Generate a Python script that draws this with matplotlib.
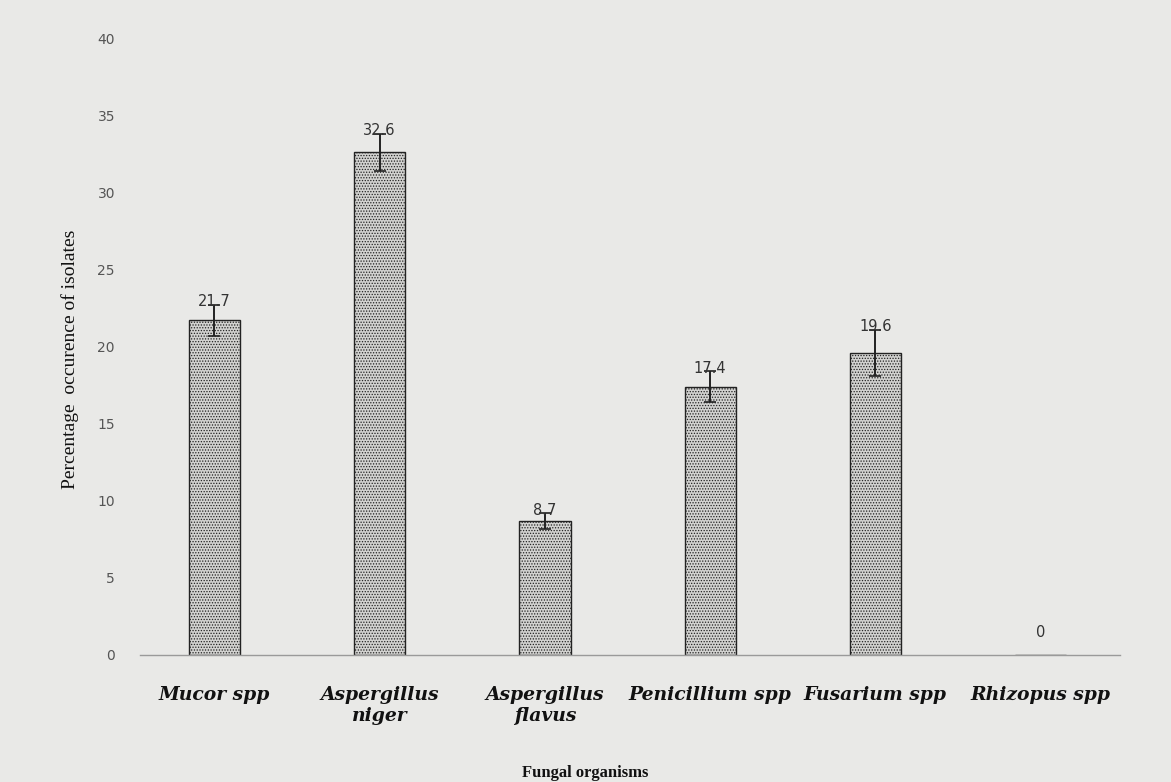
import matplotlib
matplotlib.use("Agg")
import matplotlib.pyplot as plt

categories = ["Mucor spp", "Aspergillus\nniger", "Aspergillus\nflavus",
              "Penicillium spp", "Fusarium spp", "Rhizopus spp"]
values = [21.7, 32.6, 8.7, 17.4, 19.6, 0.0]
errors = [1.0, 1.2, 0.5, 1.0, 1.5, 0.0]
value_labels = ["21.7", "32.6", "8.7", "17.4", "19.6", "0"]
yticks = [0, 5, 10, 15, 20, 25, 30, 35, 40]

plt.rcParams['hatch.color'] = '#555555'
plt.rcParams['hatch.linewidth'] = 0.6

fig = plt.figure(figsize=(11.71, 7.82), dpi=100, facecolor='#e9e9e7')
ax = fig.add_axes([140/1171, 1 - 655/782, 980/1171, (655-38)/782])
ax.set_facecolor('#e9e9e7')

x = list(range(len(categories)))
bars = ax.bar(x, values, width=0.31, color='#d2d2d0', edgecolor='#222222',
              linewidth=1.0, hatch='......')
ax.errorbar(x[:5], values[:5], yerr=errors[:5], fmt='none', ecolor='#222222',
            elinewidth=1.4, capsize=4, capthick=1.2)

for xi, v, e, lab in zip(x, values, errors, value_labels):
    ypos = v + e - 0.3 if v > 0 else v + 1.0
    ax.text(xi, ypos, lab, ha='center', va='bottom',
            fontsize=10.5, color='#333333', family='DejaVu Sans')

ax.set_xlim(-0.45, 5.48)
ax.set_ylim(0, 40)
ax.set_yticks(yticks)
ax.set_yticklabels([str(t) for t in yticks], fontsize=10, color='#555555')
ax.tick_params(axis='y', length=0, pad=18)
ax.set_xticks(x)
ax.set_xticklabels(categories, fontsize=13.5, fontweight='bold', fontstyle='italic',
                   family='DejaVu Serif', color='#111111', linespacing=1.25,
                   va='top')
ax.tick_params(axis='x', length=0, pad=22)

for s in ['top', 'right', 'left']:
    ax.spines[s].set_visible(False)
ax.spines['bottom'].set_color('#9a9a9a')
ax.spines['bottom'].set_linewidth(1.0)

ax.set_ylabel("Percentage  occurence of isolates", family='Liberation Serif',
              fontsize=14, color='#111111')
ax.yaxis.set_label_coords(-0.062, 0.48)
fig.text(0.5, 1 - 773/782, "Fungal organisms", ha='center', va='center',
         family='Liberation Serif', fontweight='bold', fontsize=12, color='#111111')

fig.savefig("out.png", dpi=100, facecolor=fig.get_facecolor())
